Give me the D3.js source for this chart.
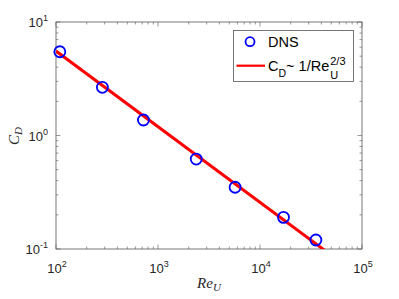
<!DOCTYPE html>
<html><head><meta charset="utf-8">
<script src="https://cdn.jsdelivr.net/npm/d3@7"></script>
<style>body{margin:0;background:#fff}svg{display:block}</style>
</head><body>
<svg id="c" width="399" height="299"></svg>
<script>
const reU = [109, 285, 720, 2370, 5700, 17000, 35300];
const cD = [5.47, 2.66, 1.37, 0.62, 0.35, 0.19, 0.12];
const fitRange = [100, 60000];
const fitCoef = 119.6;
const fitExp = -2/3;
const xTickExps = [2, 3, 4, 5];
const yTickExps = [-1, 0, 1];
const legendLabels = ["DNS", "C", "D", "~ 1/Re", "2/3", "U"];

const svg = d3.select("#c");
const m = {l: 56, r: 37, t: 22, b: 50};
const W = 399, H = 299;
const x = d3.scaleLog().domain([1e2, 1e5]).range([m.l, W - m.r]);
const y = d3.scaleLog().domain([1e-1, 1e1]).range([H - m.b, m.t]);
const axisCol = "#555";

svg.append("defs").append("clipPath").attr("id", "clip")
  .append("rect").attr("x", m.l).attr("y", m.t)
  .attr("width", x.range()[1] - m.l).attr("height", y.range()[0] - m.t);

const minorX = [], minorY = [];
for (let e = 2; e < 5; e++) for (let k = 2; k <= 9; k++) minorX.push(k * Math.pow(10, e));
for (let e = -1; e < 1; e++) for (let k = 2; k <= 9; k++) minorY.push(k * Math.pow(10, e));
const g = svg.append("g");
const x0 = x.range()[0], x1 = x.range()[1], y0 = y.range()[0], y1 = y.range()[1];
function tickX(v, len) {
  const px = x(v);
  g.append("line").attr("x1", px).attr("x2", px).attr("y1", y0).attr("y2", y0 - len).attr("stroke", axisCol).attr("stroke-width", 0.6);
  g.append("line").attr("x1", px).attr("x2", px).attr("y1", y1).attr("y2", y1 + len).attr("stroke", axisCol).attr("stroke-width", 0.6);
}
function tickY(v, len) {
  const py = y(v);
  g.append("line").attr("y1", py).attr("y2", py).attr("x1", x0).attr("x2", x0 + len).attr("stroke", axisCol).attr("stroke-width", 0.6);
  g.append("line").attr("y1", py).attr("y2", py).attr("x1", x1).attr("x2", x1 - len).attr("stroke", axisCol).attr("stroke-width", 0.6);
}
minorX.forEach(v => tickX(v, 2.5));
xTickExps.forEach(e => tickX(Math.pow(10, e), 4.5));
minorY.forEach(v => tickY(v, 2.5));
yTickExps.forEach(e => tickY(Math.pow(10, e), 4.5));

g.append("rect").attr("x", x0).attr("y", y1).attr("width", x1 - x0).attr("height", y0 - y1)
  .attr("fill", "none").attr("stroke", axisCol).attr("stroke-width", 0.8);

const font = "Liberation Sans, Arial, Helvetica, sans-serif";
xTickExps.forEach(e => {
  const t = svg.append("text").attr("x", x(Math.pow(10, e)) + 1).attr("y", y0 + 24)
    .attr("text-anchor", "middle").attr("font-family", font).attr("font-size", 13).attr("fill", "#262626");
  t.append("tspan").text("10");
  t.append("tspan").attr("font-size", 9).attr("dy", -6).text(e);
});
yTickExps.forEach(e => {
  const t = svg.append("text").attr("x", x0 - 8).attr("y", y(Math.pow(10, e)) + 5)
    .attr("text-anchor", "end").attr("font-family", font).attr("font-size", 13).attr("fill", "#262626");
  t.append("tspan").text("10");
  t.append("tspan").attr("font-size", 9).attr("dy", -6).text(e);
});

// axis labels
const xl = svg.append("text").attr("x", 209).attr("y", 288).attr("text-anchor", "middle")
  .attr("font-family", "Liberation Serif, serif").attr("font-style", "italic").attr("font-size", 15).attr("fill", "#262626");
xl.append("tspan").text("Re");
xl.append("tspan").attr("font-size", 11).attr("dy", 3).text("U");
const yl = svg.append("text").attr("transform", "translate(19,136) rotate(-90)").attr("text-anchor", "middle")
  .attr("font-family", "Liberation Serif, serif").attr("font-style", "italic").attr("font-size", 15).attr("fill", "#262626");
yl.append("tspan").text("C");
yl.append("tspan").attr("font-size", 11).attr("dy", 3).text("D");

// fit line
const fitPts = fitRange.map(r => [r, fitCoef * Math.pow(r, fitExp)]);
svg.append("path").attr("clip-path", "url(#clip)")
  .attr("d", d3.line().x(d => x(d[0])).y(d => y(d[1]))(fitPts))
  .attr("stroke", "#ff0000").attr("stroke-width", 3).attr("fill", "none");

// data points
svg.append("g").selectAll("circle").data(reU.map((r, i) => [r, cD[i]])).join("circle")
  .attr("cx", d => x(d[0])).attr("cy", d => y(d[1])).attr("r", 5.5)
  .attr("fill", "none").attr("stroke", "#0000ff").attr("stroke-width", 1.8);

// legend
const lg = svg.append("g");
lg.append("rect").attr("x", 233.5).attr("y", 30.5).attr("width", 120).attr("height", 51)
  .attr("fill", "#fff").attr("stroke", axisCol).attr("stroke-width", 0.8);
lg.append("circle").attr("cx", 250).attr("cy", 41.7).attr("r", 4.5)
  .attr("fill", "none").attr("stroke", "#0000ff").attr("stroke-width", 1.8);
lg.append("text").attr("x", 268).attr("y", 47).attr("font-family", font).attr("font-size", 14.5).attr("fill", "#000").text(legendLabels[0]);
lg.append("line").attr("x1", 236.5).attr("x2", 265).attr("y1", 65.7).attr("y2", 65.7).attr("stroke", "#ff0000").attr("stroke-width", 2.2);
const lt = lg.append("text").attr("x", 268).attr("y", 71).attr("font-family", font).attr("font-size", 14.5).attr("fill", "#000");
lt.append("tspan").text(legendLabels[1]);
lt.append("tspan").attr("font-size", 10.5).attr("dy", 6).text(legendLabels[2]);
lt.append("tspan").attr("dy", -6).text(legendLabels[3]);
const endX = 268 + lt.node().getComputedTextLength() + 1;
lg.append("text").attr("x", endX).attr("y", 65).attr("font-family", font).attr("font-size", 11).attr("fill", "#000").text(legendLabels[4]);
lg.append("text").attr("x", endX).attr("y", 78.5).attr("font-family", font).attr("font-size", 11).attr("fill", "#000").text(legendLabels[5]);
</script>
</body></html>
